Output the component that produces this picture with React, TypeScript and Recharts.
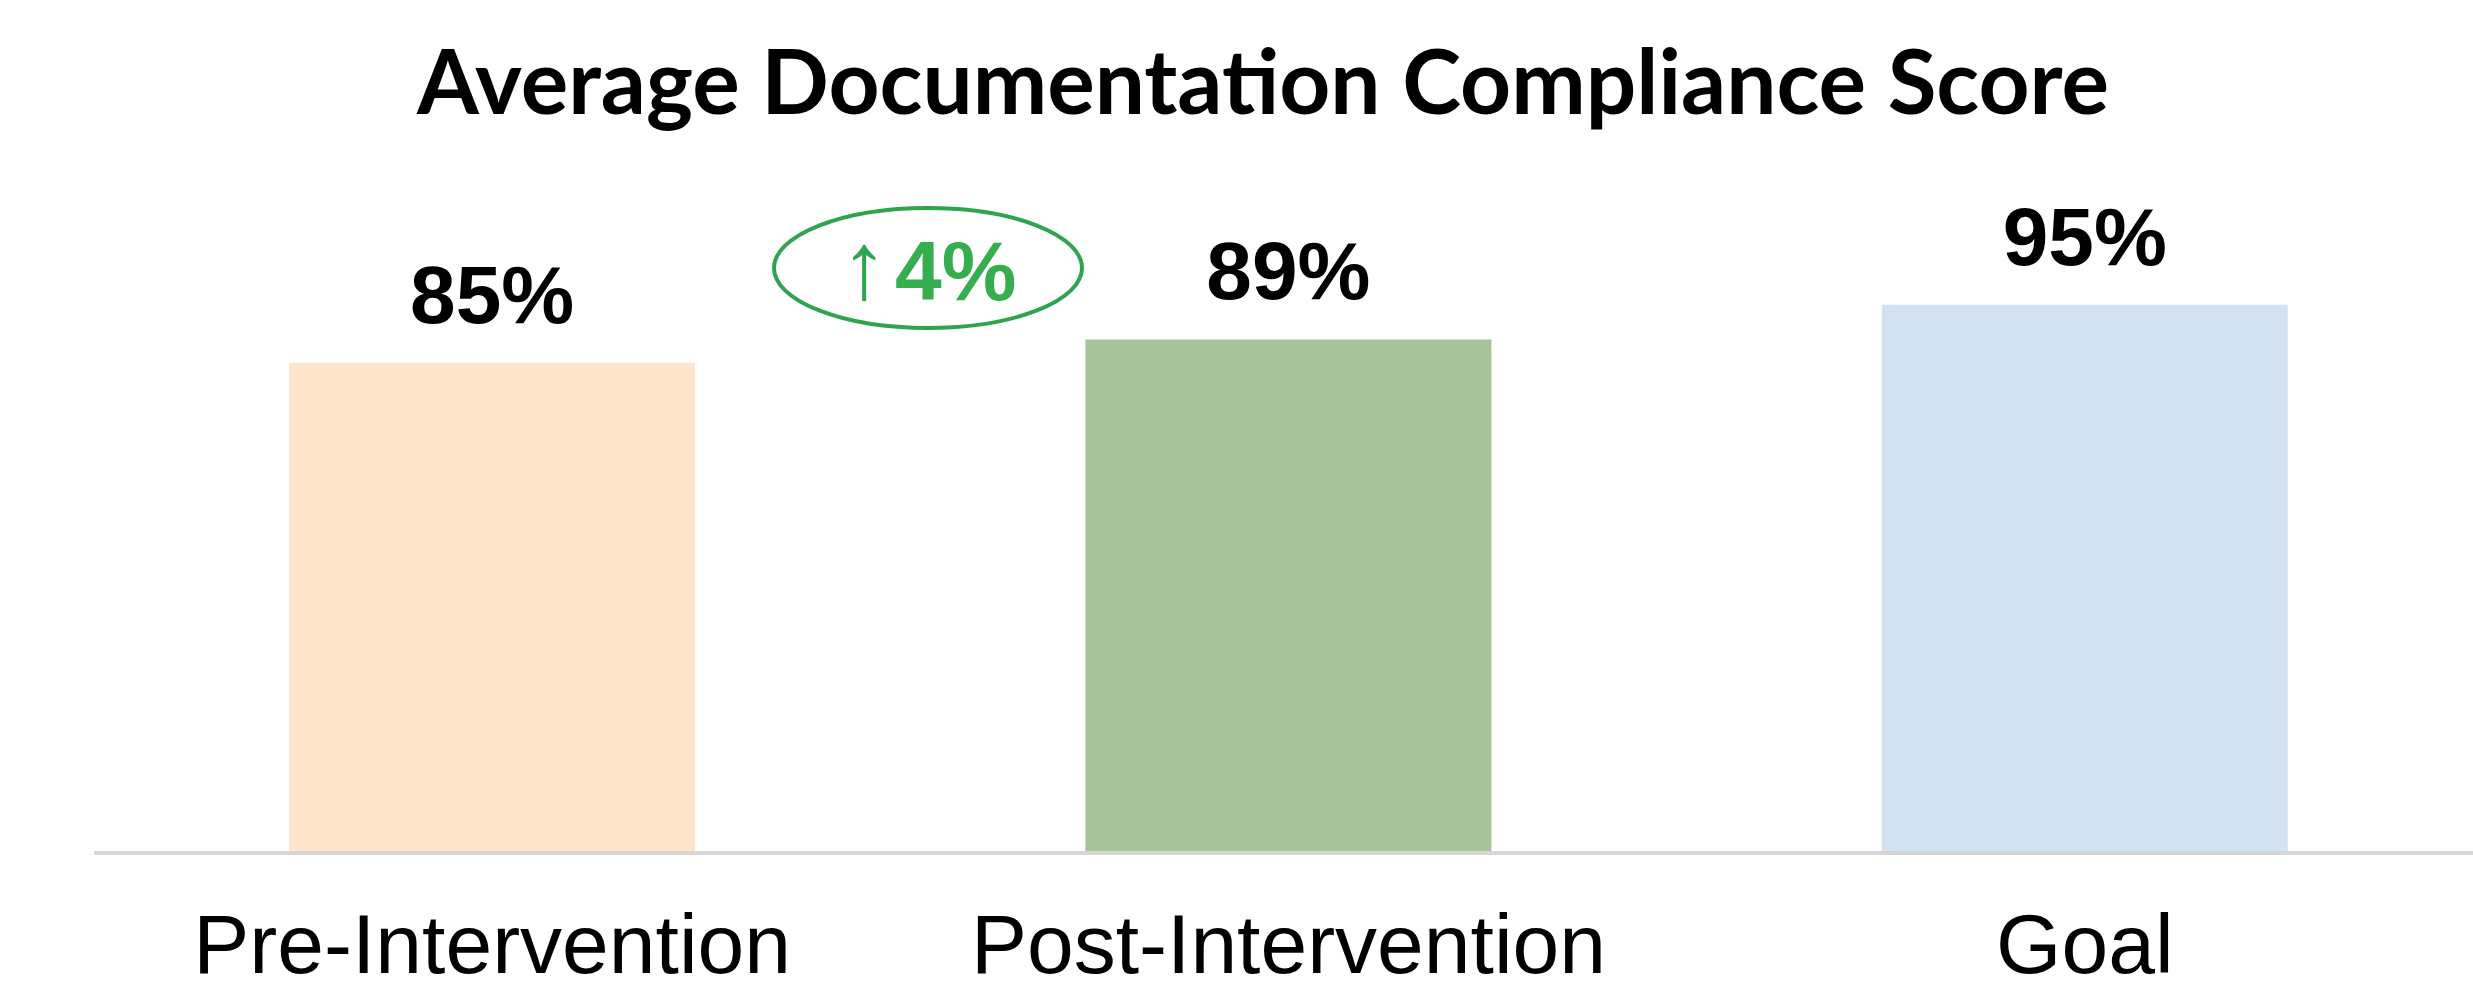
import React from 'react';
import { BarChart, Bar, XAxis, YAxis, Cell, LabelList } from 'recharts';

const categories = ['Pre-Intervention', 'Post-Intervention', 'Goal'];
const scores = [85, 89, 95];
const barColors = ['#fde5cc', '#a8c49a', '#d2e2f2'];
const improvementLabel = '4%';
const chartTitle = 'Average Documentation Compliance Score';

const W = 2473;
const H = 992;

const data = categories.map((name, i) => ({ name, score: scores[i] }));

// value on top of each bar, bold
const ValueLabel = (props: any) => {
  const { x, y, width, value } = props;
  return (
    <text
      x={x + width / 2}
      y={y - 40}
      textAnchor="middle"
      fontFamily="'Liberation Sans', Arial, sans-serif"
      fontWeight="bold"
      fontSize={82}
      fill="#000"
    >
      {value}%
    </text>
  );
};

export default function App() {
  return (
    <div style={{ position: 'absolute', left: 0, top: 0, width: W, height: H, background: '#fff' }}>
      <BarChart
        width={W}
        height={H}
        data={data}
        margin={{ top: 276, right: -10, bottom: 0, left: 94 }}
        barCategoryGap="24.5%"
      >
        <XAxis
          dataKey="name"
          height={139}
          axisLine={{ stroke: '#d6d6d6', strokeWidth: 4 }}
          tickLine={false}
          tickSize={0}
          tickMargin={60}
          tick={{ fill: '#000', fontSize: 84, fontFamily: "'Liberation Sans', Arial, sans-serif" }}
          interval={0}
        />
        <YAxis hide domain={[0, 100]} />
        <Bar dataKey="score" isAnimationActive={false}>
          {data.map((d, i) => (
            <Cell key={d.name} fill={barColors[i]} />
          ))}
          <LabelList dataKey="score" content={ValueLabel} />
        </Bar>
      </BarChart>
      <svg
        width={W}
        height={H}
        style={{ position: 'absolute', left: 0, top: 0, pointerEvents: 'none' }}
      >
        <text
          x={1263}
          y={114}
          textAnchor="middle"
          fontFamily="Lato, 'Open Sans', sans-serif"
          fontWeight="bold"
          fontSize={89}
          fill="#000"
        >
          {chartTitle}
        </text>
        <ellipse cx={928} cy={268} rx={154} ry={60} fill="none" stroke="#2ea44f" strokeWidth={4} />
        <text
          x={864}
          y={298}
          textAnchor="middle"
          fontFamily="'Liberation Sans', Arial, sans-serif"
          fontSize={95}
          fill="#2ea44f"
        >
          ↑
        </text>
        <text
          x={895}
          y={300}
          textAnchor="start"
          fontFamily="'Liberation Sans', Arial, sans-serif"
          fontWeight="bold"
          fontSize={84}
          fill="#36ad4f"
        >
          {improvementLabel}
        </text>
      </svg>
    </div>
  );
}
